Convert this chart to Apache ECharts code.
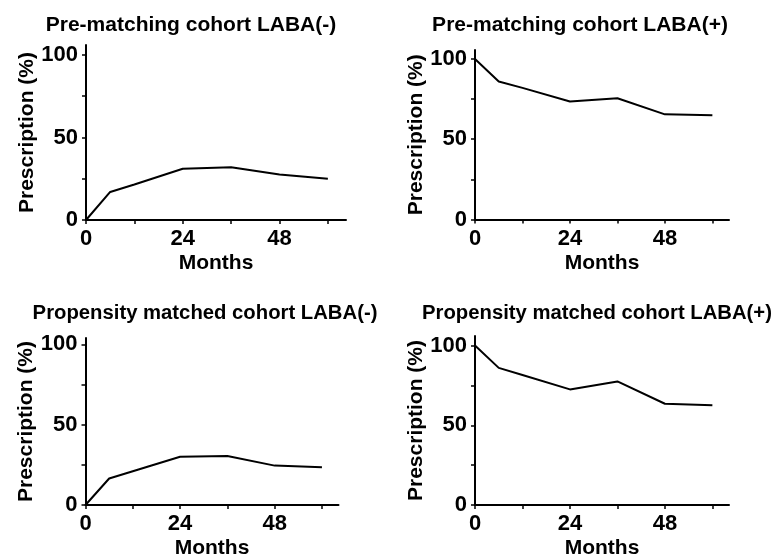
<!DOCTYPE html>
<html>
<head>
<meta charset="utf-8">
<script src="https://cdn.jsdelivr.net/npm/echarts@6/dist/echarts.min.js"></script>
<style>
html,body{margin:0;padding:0;background:#fff;}
#c{width:774px;height:560px;}
</style>
</head>
<body>
<div id="c"></div>
<script>
var months = [0, 6, 12, 24, 36, 48, 60];
var preMinus = [0, 17, 21.5, 31, 32, 27.5, 25];
var prePlus = [100, 86, 82, 73.5, 75.5, 65.5, 65];
var psmMinus = [0, 16.5, 21, 30, 30.5, 24.5, 23.5];
var psmPlus = [100, 86, 81.5, 72.5, 77.5, 63.5, 62.5];
var titles = ['Pre-matching cohort LABA(-)', 'Pre-matching cohort LABA(+)', 'Propensity matched cohort LABA(-)', 'Propensity matched cohort LABA(+)'];
var xTicks = [0, 12, 24, 36, 48, 60];
var xLabels = [0, 24, 48];
var yTicks = [0, 25, 50, 75, 100];
var yLabels = [0, 50, 100];
var seriesData = [preMinus, prePlus, psmMinus, psmPlus];

var FONT = '"Liberation Sans", Arial, sans-serif';
var grids = [
  {left: 86, top: 45, width: 260, height: 175, ymax: 106, xmax: 64.5},
  {left: 475, top: 50, width: 254, height: 169.5, ymax: 105.6, xmax: 64.2},
  {left: 85.5, top: 338, width: 253, height: 168.7, ymax: 103.9, xmax: 64.2},
  {left: 475, top: 336, width: 254, height: 170.7, ymax: 106, xmax: 64.2}
];
var titlePos = [
  {x: 186, y: 20, size: 21},
  {x: 575, y: 20, size: 21},
  {x: 200, y: 308, size: 20.3},
  {x: 592, y: 308, size: 20.3}
];

var option = {
  backgroundColor: '#fff',
  animation: false,
  title: titles.map(function (t, i) {
    return {
      text: t, left: titlePos[i].x, top: titlePos[i].y, textAlign: 'center', textVerticalAlign: 'middle',
      textStyle: {fontFamily: FONT, fontWeight: 'bold', fontSize: titlePos[i].size, color: '#000'}
    };
  }),
  grid: grids.map(function (g) {
    return {left: g.left, top: g.top, width: g.width, height: g.height, containLabel: false};
  }),
  xAxis: grids.map(function (g, i) {
    return {
      type: 'value', gridIndex: i, min: 0, max: g.xmax,
      name: 'Months', nameLocation: 'middle', nameGap: 33,
      nameTextStyle: {fontFamily: FONT, fontWeight: 'bold', fontSize: 21, color: '#000'},
      axisLine: {show: true, onZero: false, lineStyle: {color: '#000', width: 2}},
      axisTick: {show: true, customValues: xTicks, length: 4, lineStyle: {color: '#000', width: 1.5}},
      axisLabel: {customValues: xLabels, margin: 8, fontFamily: FONT, fontWeight: 'bold', fontSize: 22, color: '#000'},
      splitLine: {show: false}
    };
  }),
  yAxis: grids.map(function (g, i) {
    return {
      type: 'value', gridIndex: i, min: 0, max: g.ymax,
      name: 'Prescription (%)', nameLocation: 'middle', nameGap: 48, nameRotate: 90,
      nameTextStyle: {fontFamily: FONT, fontWeight: 'bold', fontSize: 21, color: '#000'},
      axisLine: {show: true, onZero: false, lineStyle: {color: '#000', width: 2}},
      axisTick: {show: true, customValues: yTicks, length: 4, lineStyle: {color: '#000', width: 1.5}},
      axisLabel: {customValues: yLabels, margin: 8, fontFamily: FONT, fontWeight: 'bold', fontSize: 22, color: '#000'},
      splitLine: {show: false}
    };
  }),
  series: seriesData.map(function (d, i) {
    return {
      type: 'line', xAxisIndex: i, yAxisIndex: i,
      data: months.map(function (m, k) { return [m, d[k]]; }),
      showSymbol: false, symbol: 'none',
      lineStyle: {color: '#000', width: 2}
    };
  })
};
var chart = echarts.init(document.getElementById('c'), null, {renderer: 'canvas'});
chart.setOption(option);
</script>
</body>
</html>
